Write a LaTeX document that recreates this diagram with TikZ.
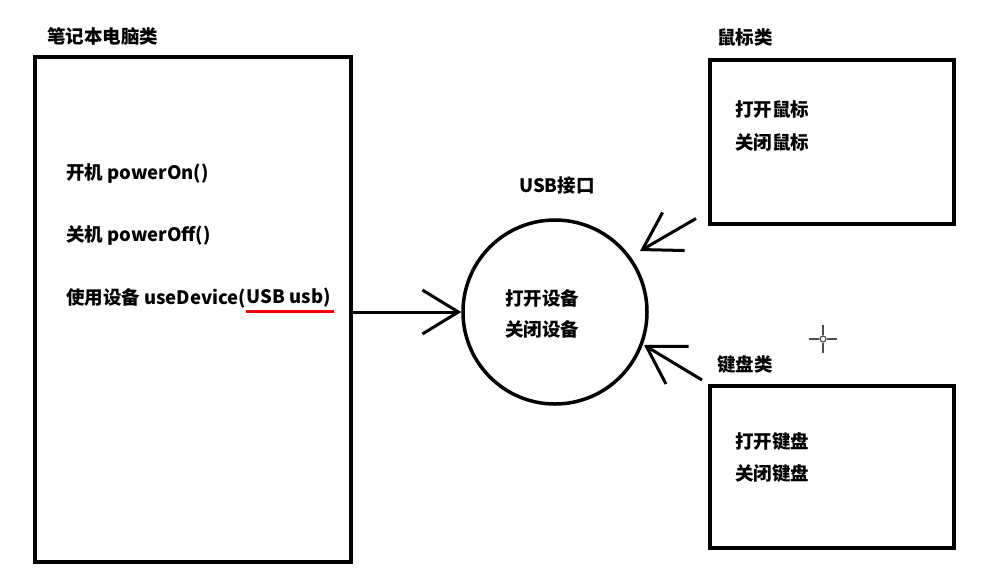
\documentclass[tikz,border=0pt]{standalone}
\usepackage{fontspec}
\setmainfont{Noto Sans CJK SC}
\usetikzlibrary{arrows.meta,positioning}
\tikzset{
    box/.style={draw,line width=3.5pt,anchor=north west,inner sep=0pt},
    txt/.style={anchor=west,inner sep=0pt,font=\bfseries\fontsize{18.5}{20}\selectfont},
    arr/.style={line width=3pt,-{Straight Barb[length=36pt,width=44pt,line width=3pt]}}
}
\begin{document}
\begin{tikzpicture}[x=1pt,y=-1pt]
                \useasboundingbox (0,0) rectangle (993,582);
                % laptop class
                \node[box,minimum width=316pt,minimum height=505pt] (laptop) at (33,55) {};
                \node[txt] (laptoptitle) at (47,36) {笔记本电脑类};
                \node[txt] (on) at (66,173) {开机 powerOn()};
                \node[txt] (off) at (66,235) {关机 powerOff()};
                \node[txt] (use) at (66,298) {使用设备 useDevice(};
                \node[txt,right=0pt of use] (param) {USB usb)};
                \draw[line width=3pt,red] ([yshift=-4pt]param.south west) -- ([yshift=-4pt,xshift=3pt]param.south east);
                % usb interface
                \node[circle,draw,line width=3.5pt,minimum size=184pt,inner sep=0pt] (usb) at (555,312) {};
                \node[txt,anchor=center] (usbtitle) at (557,185) {USB接口};
                \node[txt] (uopen) at (505,298) {打开设备};
                \node[txt] (uclose) at (505,329) {关闭设备};
                % mouse class
                \node[box,minimum width=244pt,minimum height=164pt] (mouse) at (708,58) {};
                \node[txt] (mousetitle) at (717,37) {鼠标类};
                \node[txt] (mopen) at (735,110) {打开鼠标};
                \node[txt] (mclose) at (735,142) {关闭鼠标};
                % keyboard class
                \node[box,minimum width=244pt,minimum height=162pt] (keyboard) at (708,384) {};
                \node[txt] (keytitle) at (717,365) {键盘类};
                \node[txt] (kopen) at (735,442) {打开键盘};
                \node[txt] (kclose) at (735,474) {关闭键盘};
                % arrows
                \coordinate (mtip) at (640,251);
                \coordinate (ktip) at (644,345);
                \draw[arr] (laptop.east |- usb.west) -- (usb.west);
                \draw[arr] ([shift={(-12,-7)}]mouse.south west) -- (mtip);
                \draw[arr] ([shift={(-6,-4)}]keyboard.north west) -- (ktip);
                % cursor
                \coordinate (cursor) at (823,339);
                \draw[line width=1.2pt,black!70] (cursor) circle (3);
                \draw[line width=1.2pt,black!70] ([xshift=-14pt]cursor) -- ([xshift=-4pt]cursor) ([xshift=4pt]cursor) -- ([xshift=14pt]cursor) ([yshift=-14pt]cursor) -- ([yshift=-4pt]cursor) ([yshift=4pt]cursor) -- ([yshift=14pt]cursor);
            \end{tikzpicture}
\end{document}
